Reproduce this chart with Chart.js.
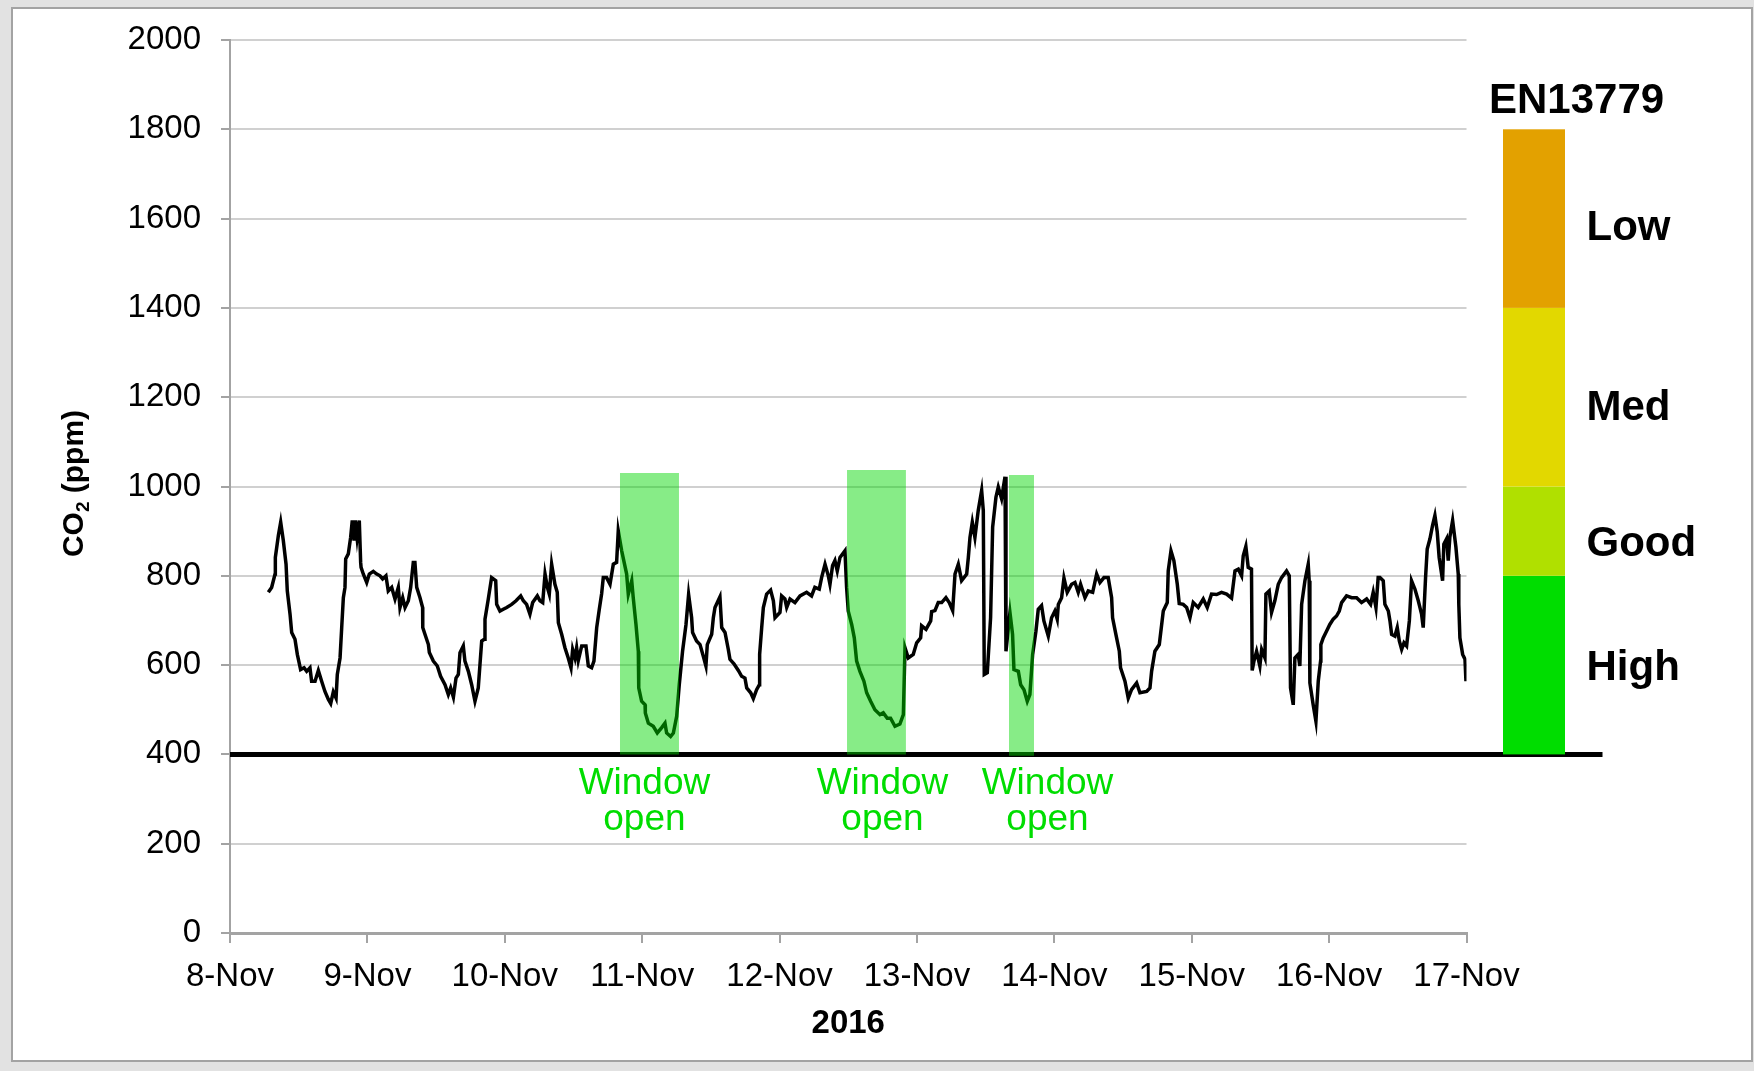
<!DOCTYPE html>
<html>
<head>
<meta charset="utf-8">
<script src="https://cdn.jsdelivr.net/npm/chart.js@4.4.1/dist/chart.umd.min.js"></script>
<style>
  html, body { margin: 0; padding: 0; background: #e2e2e2; }
  #frame { position: absolute; left: 11px; top: 7px; width: 1738px; height: 1051px; border: 2px solid #a3a3a3; background: #fff; }
  #co2Chart { position: absolute; left: 0; top: 0; }
</style>
</head>
<body>
<div id="frame"></div>
<canvas id="co2Chart" width="1754" height="1071"></canvas>
<script>
// x axis: days since 8-Nov 00:00
const dayLabels = ['8-Nov', '9-Nov', '10-Nov', '11-Nov', '12-Nov', '13-Nov', '14-Nov', '15-Nov', '16-Nov', '17-Nov'];

const dayOffset = [
  0.279, 0.303, 0.328, 0.330, 0.352, 0.369, 0.388, 0.408, 0.417, 0.437, 0.449, 0.473, 0.490, 0.514, 0.539, 0.558,
  0.582, 0.594, 0.619, 0.643, 0.667, 0.691, 0.716, 0.733, 0.752, 0.772, 0.781, 0.801, 0.813, 0.825, 0.837, 0.842,
  0.861, 0.878, 0.890, 0.903, 0.912, 0.925, 0.941, 0.951, 0.954, 0.970, 0.995, 1.014, 1.043, 1.068, 1.092, 1.111,
  1.135, 1.152, 1.177, 1.201, 1.225, 1.237, 1.257, 1.274, 1.298, 1.315, 1.334, 1.346, 1.359, 1.383, 1.402, 1.403,
  1.419, 1.444, 1.451, 1.480, 1.509, 1.533, 1.565, 1.589, 1.606, 1.626, 1.645, 1.662, 1.674, 1.698, 1.710, 1.735,
  1.759, 1.783, 1.807, 1.832, 1.851, 1.856, 1.880, 1.904, 1.934, 1.941, 1.965, 1.989, 2.014, 2.050, 2.082, 2.116,
  2.135, 2.159, 2.183, 2.203, 2.237, 2.256, 2.276, 2.293, 2.310, 2.324, 2.341, 2.365, 2.382, 2.390, 2.414, 2.438,
  2.462, 2.482, 2.494, 2.511, 2.523, 2.535, 2.560, 2.591, 2.608, 2.632, 2.649, 2.669, 2.688, 2.705, 2.717, 2.741,
  2.766, 2.790, 2.814, 2.826, 2.851, 2.887, 2.899, 2.924, 2.935, 2.955, 2.972, 2.975, 2.996, 3.021, 3.023, 3.045,
  3.081, 3.110, 3.142, 3.166, 3.178, 3.207, 3.227, 3.251, 3.270, 3.294, 3.319, 3.338, 3.360, 3.367, 3.396, 3.421,
  3.445, 3.464, 3.474, 3.506, 3.518, 3.530, 3.566, 3.579, 3.603, 3.627, 3.639, 3.668, 3.700, 3.724, 3.748, 3.761,
  3.790, 3.809, 3.833, 3.853, 3.855, 3.870, 3.882, 3.906, 3.935, 3.955, 3.967, 4.003, 4.015, 4.039, 4.052, 4.076,
  4.112, 4.149, 4.197, 4.233, 4.257, 4.289, 4.306, 4.331, 4.355, 4.367, 4.386, 4.403, 4.420, 4.440, 4.476, 4.488,
  4.500, 4.525, 4.544, 4.561, 4.585, 4.614, 4.634, 4.663, 4.694, 4.731, 4.755, 4.784, 4.808, 4.840, 4.876, 4.901,
  4.913, 4.937, 4.973, 4.998, 5.027, 5.034, 5.066, 5.100, 5.107, 5.131, 5.155, 5.180, 5.211, 5.235, 5.260, 5.277,
  5.301, 5.325, 5.362, 5.374, 5.386, 5.403, 5.422, 5.446, 5.471, 5.483, 5.490, 5.512, 5.536, 5.551, 5.575, 5.592,
  5.616, 5.641, 5.648, 5.677, 5.696, 5.706, 5.738, 5.755, 5.779, 5.803, 5.822, 5.842, 5.866, 5.883, 5.907, 5.924,
  5.956, 5.980, 6.004, 6.021, 6.029, 6.053, 6.070, 6.094, 6.126, 6.150, 6.174, 6.191, 6.223, 6.247, 6.279, 6.308,
  6.332, 6.361, 6.392, 6.417, 6.424, 6.448, 6.473, 6.482, 6.514, 6.538, 6.562, 6.599, 6.623, 6.672, 6.696, 6.708,
  6.732, 6.764, 6.793, 6.822, 6.829, 6.849, 6.870, 6.895, 6.909, 6.938, 6.963, 6.987, 7.011, 7.047, 7.084, 7.113,
  7.144, 7.181, 7.217, 7.254, 7.290, 7.315, 7.339, 7.363, 7.375, 7.394, 7.411, 7.435, 7.440, 7.453, 7.472, 7.496,
  7.509, 7.533, 7.540, 7.564, 7.581, 7.605, 7.630, 7.654, 7.690, 7.710, 7.719, 7.739, 7.751, 7.775, 7.787, 7.800,
  7.824, 7.848, 7.855, 7.860, 7.884, 7.904, 7.921, 7.938, 7.940, 7.957, 7.981, 8.005, 8.030, 8.054, 8.074, 8.091,
  8.127, 8.164, 8.200, 8.236, 8.273, 8.302, 8.321, 8.341, 8.357, 8.370, 8.394, 8.406, 8.431, 8.443, 8.455, 8.479,
  8.496, 8.511, 8.528, 8.545, 8.564, 8.584, 8.600, 8.625, 8.649, 8.673, 8.685, 8.702, 8.714, 8.734, 8.753, 8.770,
  8.787, 8.801, 8.826, 8.835, 8.855, 8.867, 8.879, 8.899, 8.923, 8.940, 8.944, 8.952, 8.972, 8.989, 8.996
];

const co2ppm = [
  763, 774, 804, 841, 890, 920, 879, 826, 766, 714, 673, 658, 624, 590, 594, 586,
  594, 564, 564, 588, 564, 541, 523, 514, 540, 526, 579, 616, 684, 751, 774, 838,
  849, 886, 924, 879, 924, 885, 924, 830, 819, 804, 785, 804, 810, 804, 800, 793,
  800, 766, 774, 748, 774, 729, 751, 729, 744, 774, 830, 830, 774, 751, 729, 684,
  669, 646, 628, 609, 598, 575, 556, 534, 549, 528, 571, 579, 628, 643, 609, 586,
  556, 519, 549, 654, 658, 703, 748, 796, 789, 736, 721, 725, 729, 736, 744, 755,
  744, 736, 714, 740, 755, 744, 740, 804, 774, 759, 826, 781, 763, 695, 669, 639,
  616, 594, 635, 616, 639, 610, 643, 643, 598, 594, 609, 684, 725, 760, 796, 796,
  781, 826, 830, 901, 856, 804, 759, 789, 751, 691, 631, 549, 519, 511, 493, 470,
  463, 448, 460, 470, 448, 440, 448, 485, 556, 631, 691, 758, 706, 673, 654, 646,
  620, 598, 646, 669, 706, 729, 753, 684, 673, 635, 613, 603, 588, 575, 571, 549,
  538, 525, 545, 556, 624, 684, 729, 759, 768, 744, 706, 718, 755, 748, 729, 748,
  740, 755, 763, 755, 774, 770, 796, 826, 800, 781, 823, 834, 811, 841, 856, 774,
  721, 691, 661, 609, 586, 564, 538, 519, 500, 489, 493, 481, 481, 463, 468, 489,
  639, 616, 624, 650, 661, 688, 680, 699, 720, 722, 740, 740, 751, 740, 722, 804,
  826, 789, 804, 841, 886, 920, 886, 946, 991, 946, 579, 583, 706, 909, 976, 999,
  973, 1022, 631, 718, 669, 590, 586, 556, 545, 519, 534, 624, 676, 725, 733, 699,
  665, 706, 721, 703, 736, 751, 795, 763, 781, 785, 763, 781, 751, 766, 763, 804,
  785, 796, 796, 751, 706, 669, 631, 594, 564, 526, 545, 560, 538, 541, 549, 586,
  631, 646, 721, 740, 811, 856, 834, 781, 738, 736, 729, 706, 740, 729, 748, 729,
  759, 758, 763, 759, 750, 811, 815, 800, 845, 866, 819, 815, 588, 609, 631, 598,
  635, 616, 759, 766, 718, 744, 781, 796, 811, 800, 549, 511, 616, 624, 598, 736,
  789, 826, 789, 560, 511, 474, 564, 609, 646, 661, 676, 691, 703, 710, 721, 740,
  755, 751, 751, 740, 748, 736, 763, 729, 796, 796, 789, 736, 721, 699, 669, 665,
  684, 654, 635, 650, 643, 699, 789, 770, 744, 714, 684, 796, 860, 883, 913, 935,
  898, 841, 789, 871, 883, 834, 887, 924, 864, 804, 736, 661, 624, 613, 564
];

// periods with the window open (days) and the height of each shaded block (ppm)
const windowStart = [2.838, 4.491, 5.670];
const windowEnd = [3.268, 4.920, 5.852];
const windowTop = [1030, 1037, 1026];
const windowBottom = [400, 400, 397];

// EN13779 indoor air classes, ppm
const bandLimits = [400, 800, 1000, 1400, 1800];
const bandNames = ['High', 'Good', 'Med', 'Low'];
const outdoorLevel = 400;

Chart.defaults.font.family = "'Liberation Sans', Arial, sans-serif";

const windowSets = windowStart.map((x0, i) => ({
  data: [
    { x: x0, y: windowBottom[i] },
    { x: x0, y: windowTop[i] },
    { x: windowEnd[i], y: windowTop[i] },
    { x: windowEnd[i], y: windowBottom[i] }
  ],
  borderWidth: 0,
  pointRadius: 0,
  backgroundColor: 'rgba(0,214,0,0.47)',
  fill: { value: windowBottom[i] }
}));

const co2Set = {
  data: dayOffset.map((d, i) => ({ x: d, y: co2ppm[i] })),
  borderColor: '#000',
  borderWidth: 3.5,
  pointRadius: 0,
  tension: 0,
  fill: false
};

const decor = {
  id: 'decor',
  beforeDatasetsDraw(chart) {
    const { ctx, chartArea } = chart;
    const y = chart.scales.y.getPixelForValue(outdoorLevel);
    ctx.save();
    ctx.strokeStyle = '#000';
    ctx.lineWidth = 5;
    ctx.beginPath();
    ctx.moveTo(chartArea.left, y);
    ctx.lineTo(chartArea.right + 136, y);
    ctx.stroke();
    ctx.restore();
  },
  afterDraw(chart) {
    const { ctx, chartArea } = chart;
    const ys = chart.scales.y;
    const xs = chart.scales.x;
    const colors = ['#00dd00', '#b0e000', '#e2d800', '#e3a100'];
    const nudge = [3, 13, 11, 10];
    ctx.save();

    // EN13779 colour bar
    const barX = chartArea.right + 36.5;
    ctx.font = "bold 42px 'Liberation Sans', Arial, sans-serif";
    ctx.textAlign = 'left';
    ctx.textBaseline = 'middle';
    for (let i = 0; i < bandNames.length; i++) {
      const y1 = ys.getPixelForValue(bandLimits[i]);
      const y2 = ys.getPixelForValue(bandLimits[i + 1]);
      ctx.fillStyle = colors[i];
      ctx.fillRect(barX, y2, 62, y1 - y2);
      ctx.fillStyle = '#000';
      ctx.fillText(bandNames[i], chartArea.right + 120, (y1 + y2) / 2 + nudge[i]);
    }
    ctx.fillText('EN13779', chartArea.right + 22.5, ys.getPixelForValue(bandLimits[4]) - 28);

    // window open notes
    const shift = [-5, 6, 26];
    const base = ys.getPixelForValue(outdoorLevel);
    ctx.fillStyle = '#00dd00';
    ctx.font = "37px 'Liberation Sans', Arial, sans-serif";
    ctx.textAlign = 'center';
    windowStart.forEach((x0, i) => {
      const cx = (xs.getPixelForValue(x0) + xs.getPixelForValue(windowEnd[i])) / 2 + shift[i];
      ctx.fillText('Window', cx, base + 29);
      ctx.fillText('open', cx, base + 65);
    });

    // y axis title with subscript
    ctx.translate(75, (chartArea.top + chartArea.bottom) / 2 - 3);
    ctx.rotate(-Math.PI / 2);
    ctx.fillStyle = '#000';
    ctx.textAlign = 'left';
    const big = "bold 30px 'Liberation Sans', Arial, sans-serif";
    const small = "bold 19px 'Liberation Sans', Arial, sans-serif";
    ctx.font = big;
    const w1 = ctx.measureText('CO').width;
    const w3 = ctx.measureText(' (ppm)').width;
    ctx.font = small;
    const w2 = ctx.measureText('2').width;
    const x = -(w1 + w2 + w3) / 2;
    ctx.font = big;
    ctx.fillText('CO', x, 0);
    ctx.font = small;
    ctx.fillText('2', x + w1, 9);
    ctx.font = big;
    ctx.fillText(' (ppm)', x + w1 + w2, 0);
    ctx.restore();
  }
};

new Chart(document.getElementById('co2Chart'), {
  type: 'line',
  data: { datasets: [...windowSets, co2Set] },
  options: {
    responsive: false,
    animation: false,
    devicePixelRatio: 1,
    layout: { padding: { left: 0, top: 40, right: 287.5, bottom: 0 } },
    plugins: { legend: { display: false }, tooltip: { enabled: false } },
    scales: {
      x: {
        type: 'linear',
        min: 0,
        max: 9,
        ticks: {
          stepSize: 1,
          autoSkip: false,
          maxRotation: 0,
          padding: 14,
          color: '#000',
          font: { size: 33 },
          callback: v => dayLabels[Math.round(v)]
        },
        grid: { drawOnChartArea: false, tickLength: 10, tickColor: '#a3a3a3', lineWidth: 2 },
        border: { color: '#a3a3a3', width: 3 },
        title: { display: true, text: '2016', color: '#000', font: { size: 33, weight: 'bold' }, padding: { top: 0, bottom: 27 } },
        afterFit: s => { s.height = 138; }
      },
      y: {
        min: 0,
        max: 2000,
        ticks: { stepSize: 200, padding: 20, color: '#000', font: { size: 33 }, callback: v => String(v) },
        grid: { color: '#d0d0d0', lineWidth: 2, tickLength: 9, tickColor: '#a3a3a3' },
        border: { color: '#a3a3a3', width: 2 },
        afterFit: s => { s.width = 230; }
      }
    }
  },
  plugins: [decor]
});
</script>
</body>
</html>
